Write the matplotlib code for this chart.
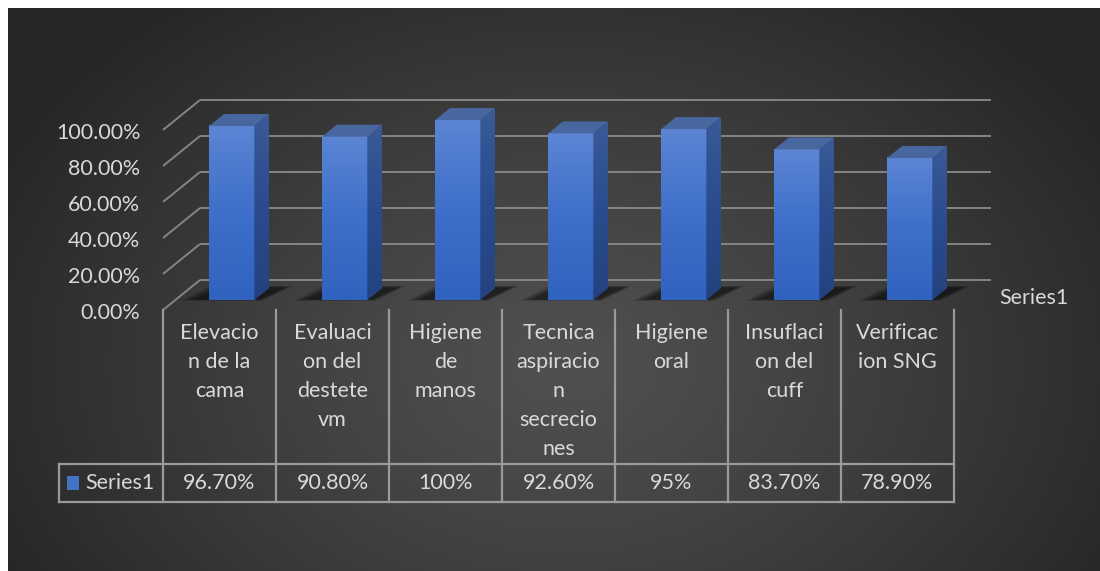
import numpy as np
import matplotlib
matplotlib.use("Agg")
import matplotlib.pyplot as plt
from matplotlib.patches import Polygon, Rectangle
from matplotlib.colors import LinearSegmentedColormap

# data
categories = ["Elevacio\nn de la\ncama", "Evaluaci\non del\ndestete\nvm", "Higiene\nde\nmanos",
              "Tecnica\naspiracio\nn\nsecrecio\nnes", "Higiene\noral", "Insuflaci\non del\ncuff",
              "Verificac\nion SNG"]
values = [0.967, 0.908, 1.00, 0.926, 0.95, 0.837, 0.789]
value_labels = ["96.70%", "90.80%", "100%", "92.60%", "95%", "83.70%", "78.90%"]
yticks = [0.0, 0.2, 0.4, 0.6, 0.8, 1.0]
series_name = "Series1"

W, H = 1100, 571
fig = plt.figure(figsize=(W / 100, H / 100), dpi=100, facecolor="white")

# dark radial background
bg = fig.add_axes([0, 0, 1, 1], zorder=-5)
bg.set_xlim(0, W)
bg.set_ylim(H, 0)
bg.axis("off")
yy, xx = np.mgrid[0:H, 0:W]
d = np.sqrt(((xx - 560) / 640.0) ** 2 + ((yy - 360) / 470.0) ** 2)
d = np.clip(d, 0, 1)
g = (80 - 42 * d ** 1.2) / 255.0
bg.imshow(np.dstack([g, g, g]), extent=(8, W, H, 8), aspect="auto", interpolation="bilinear")

# plot axes: front plane of the floor, 113 px per category, 180 px per 100%
YMAX = 1.25
px0, px1 = 163, 954
py0 = 310
py1 = py0 - 180 * YMAX
ax = fig.add_axes([px0 / W, (H - py0) / H, (px1 - px0) / W, (py0 - py1) / H])
ax.axis("off")
ax.patch.set_alpha(0)

n = len(values)
KX = 37 / 113.0   # depth shift (data units) from front to back wall
KY = 30 / 180.0
TXT = "#d9d9d9"
GRID = "#858585"
LINE = "#9a9a9a"
FONT = "Lato"
FS = 15.5


def proj(x, v, z):
    return x + z * KX, v + z * KY


# back wall gridlines and left wall diagonals
for t in yticks:
    xa, va = proj(-0.5, t, 1)
    xb, vb = proj(n - 0.5, t, 1)
    ax.plot([xa, xb], [va, vb], color=GRID, lw=1.4, solid_capstyle="butt", zorder=1, clip_on=False)
    xf, vf = proj(-0.5, t, 0)
    ax.plot([xf, xa], [vf, va], color=GRID, lw=1.4, solid_capstyle="butt", zorder=1, clip_on=False)
    ax.text(xf - 0.2, t - 0.015, "{:.2f}%".format(t * 100), color=TXT, fontsize=FS,
            family=FONT, ha="right", va="center")

front_cmap = LinearSegmentedColormap.from_list("front", ["#5c85d4", "#3e6fca", "#3062bf"])
side_cmap = LinearSegmentedColormap.from_list("side", ["#3a5a98", "#2a4c8e", "#23427f"])
grad = np.linspace(0, 1, 256).reshape(-1, 1)

bw = 0.40
z0, z1 = 0.33, 0.73
for i, v in enumerate(values):
    xl, xr = i - bw / 2, i + bw / 2
    # soft shadow on the floor
    for k in range(1, 8):
        e = 0.018 * k
        pts = [proj(xl - 0.12 - e, 0, z0 + 0.03 - e * 0.4), proj(xr + 0.02 + e * 0.5, 0, z0 + 0.03 - e * 0.4),
               proj(xr + 0.12 + e * 0.5, 0, z1 + e * 0.6), proj(xl - 0.02 - e, 0, z1 + e * 0.6)]
        ax.add_patch(Polygon(pts, closed=True, facecolor="black", edgecolor="none", alpha=0.1,
                             zorder=2, clip_on=False))
    # front face
    fx0, fv0 = proj(xl, 0, z0)
    fx1, fv1 = proj(xr, v, z0)
    ax.imshow(grad, cmap=front_cmap, extent=(fx0, fx1, fv0, fv1), aspect="auto", zorder=4,
              interpolation="bilinear")
    # side face
    side = Polygon([proj(xr, 0, z0), proj(xr, 0, z1), proj(xr, v, z1), proj(xr, v, z0)],
                   closed=True, transform=ax.transData)
    sx0, sv0 = proj(xr, 0, z0)
    sx1, sv1 = proj(xr, v, z1)
    im = ax.imshow(grad, cmap=side_cmap, extent=(sx0, sx1, sv0, sv1), aspect="auto", zorder=4,
                   interpolation="bilinear")
    im.set_clip_path(side)
    # top face
    top = [proj(xl, v, z0), proj(xr, v, z0), proj(xr, v, z1), proj(xl, v, z1)]
    ax.add_patch(Polygon(top, closed=True, facecolor="#48679f", edgecolor="none", zorder=5,
                         clip_on=False))

# data table
row1 = -154 / 180.0
row2 = -192 / 180.0
leg_x = -0.5 - 104 / 113.0
tkw = dict(color=LINE, lw=1.6, clip_on=False, solid_capstyle="projecting", zorder=3)
for k in range(n + 1):
    ax.plot([k - 0.5, k - 0.5], [0, row2], **tkw)
ax.plot([leg_x, leg_x], [row1, row2], **tkw)
ax.plot([leg_x, n - 0.5], [row1, row1], **tkw)
ax.plot([leg_x, n - 0.5], [row2, row2], **tkw)

for i, lab in enumerate(categories):
    for j, line in enumerate(lab.split("\n")):
        ax.text(i, -(23 + 29 * j) / 180.0, line, color=TXT, fontsize=FS, family=FONT,
                ha="center", va="center", clip_on=False)
    ax.text(i, (row1 + row2) / 2, value_labels[i], color=TXT, fontsize=FS, family=FONT,
            ha="center", va="center", clip_on=False)

ax.add_patch(Rectangle((leg_x + 8 / 113.0, -180 / 180.0), 12 / 113.0, 14 / 180.0,
                       facecolor="#4472c4", edgecolor="none", clip_on=False, zorder=4))
ax.text(leg_x + 26 / 113.0, (row1 + row2) / 2, series_name, color=TXT, fontsize=FS, family=FONT,
        ha="left", va="center", clip_on=False)

# depth axis label
dx, dv = proj(n - 0.5, 0, 0.5)
ax.text(dx + 0.24, 12 / 180.0, series_name, color=TXT, fontsize=FS, family=FONT,
        ha="left", va="center", clip_on=False)

ax.set_xlim(-0.5, n - 0.5)
ax.set_ylim(0, YMAX)

fig.savefig("out.png", dpi=100, facecolor=fig.get_facecolor())
